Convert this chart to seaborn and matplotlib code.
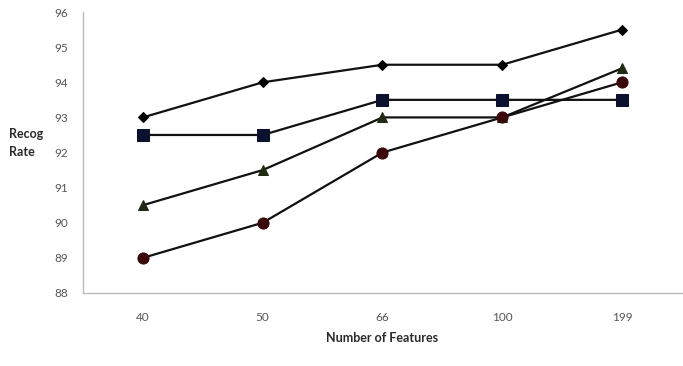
import matplotlib
matplotlib.use("Agg")
import matplotlib.pyplot as plt
import seaborn as sns
import pandas as pd

features = ["40", "50", "66", "100", "199"]
diamond = [93.0, 94.0, 94.5, 94.5, 95.5]
square = [92.5, 92.5, 93.5, 93.5, 93.5]
triangle = [90.5, 91.5, 93.0, 93.0, 94.4]
circle = [89.0, 90.0, 92.0, 93.0, 94.0]
yticks = [88, 89, 90, 91, 92, 93, 94, 95, 96]

sns.set_theme(style="white")
plt.rcParams['font.family'] = ['Lato', 'DejaVu Sans']

fig = plt.figure(figsize=(6.83, 3.66), dpi=100)
ax = fig.add_axes([0.1215, 0.1995, 0.877, 0.7675])

series = [
    ("diamond", diamond, "D", "#000000", 5.5),
    ("square", square, "s", "#0b1230", 8),
    ("triangle", triangle, "^", "#1e2a12", 7),
    ("circle", circle, "o", "#3a0808", 8),
]
for name, vals, mk, col, ms in series:
    df = pd.DataFrame({"x": range(len(features)), "y": vals})
    sns.lineplot(data=df, x="x", y="y", ax=ax, color="#111111", linewidth=1.6,
                 marker=mk, markersize=ms, markerfacecolor=col,
                 markeredgecolor=col, legend=False)

ax.set_xlim(-0.5, len(features) - 0.5)
ax.set_ylim(88, 96)
ax.set_xticks(range(len(features)))
ax.set_xticklabels(features)
ax.set_yticks(yticks)
ax.tick_params(axis="both", length=0, labelsize=8.5, labelcolor="#555555")
ax.tick_params(axis="x", pad=14)
ax.tick_params(axis="y", pad=11)
for s in ["top", "right"]:
    ax.spines[s].set_visible(False)
for s in ["left", "bottom"]:
    ax.spines[s].set_color("#bbbbbb")
    ax.spines[s].set_linewidth(1)

ax.set_xlabel("Number of Features", fontsize=9, fontweight="bold", color="#2a2a2a", labelpad=6)
ax.set_ylabel("")
fig.text(0.013, 0.61, "Recog\nRate", fontsize=9, fontweight="bold", color="#2a2a2a",
         ha="left", va="center", linespacing=1.6)

fig.savefig("out.png", dpi=100)
